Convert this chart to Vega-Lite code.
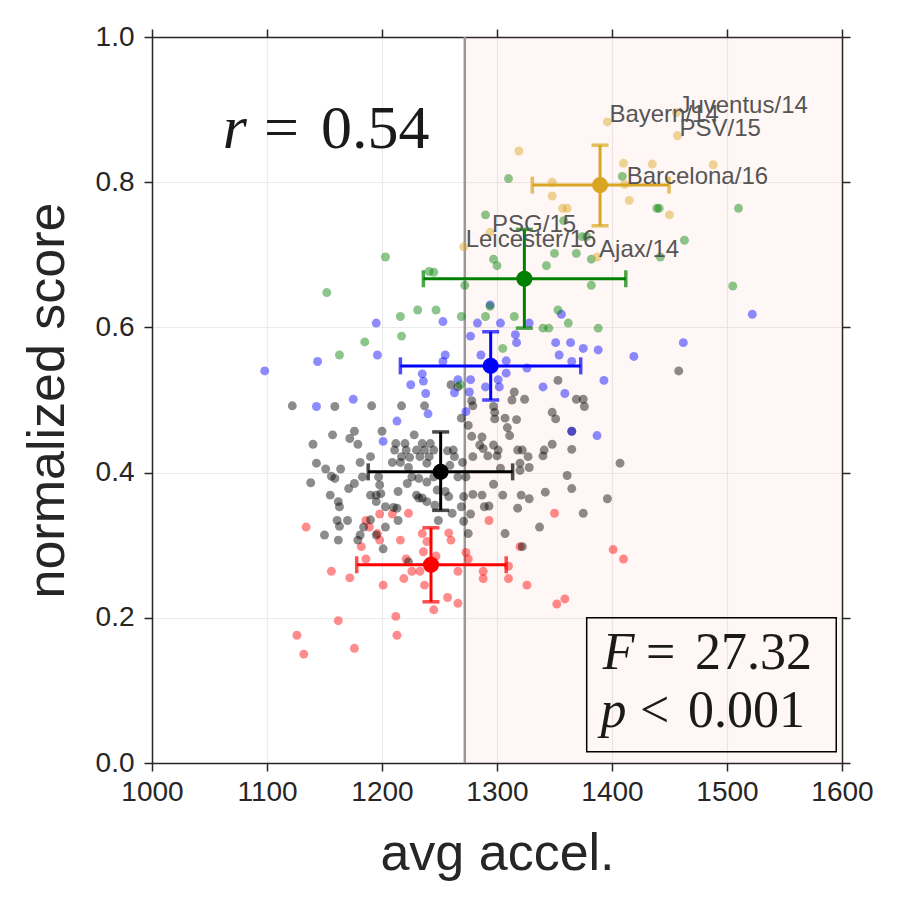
{
  "$schema": "https://vega.github.io/schema/vega-lite/v6.json",
  "width": 690,
  "height": 726,
  "autosize": {"type": "none"},
  "padding": {"left": 152, "top": 37, "right": 58, "bottom": 137},
  "background": "white",
  "datasets": {
    "pts": [
      {"x":1134,"y":0.325,"tier":1},{"x":1156,"y":0.264,"tier":1},{"x":1172,"y":0.255,"tier":1},{"x":1182,"y":0.298,"tier":1},{"x":1186,"y":0.281,"tier":1},
      {"x":1186,"y":0.334,"tier":1},{"x":1189,"y":0.325,"tier":1},{"x":1198,"y":0.343,"tier":1},{"x":1209,"y":0.343,"tier":1},{"x":1223,"y":0.344,"tier":1},
      {"x":1196,"y":0.316,"tier":1},{"x":1198,"y":0.307,"tier":1},{"x":1201,"y":0.245,"tier":1},{"x":1216,"y":0.307,"tier":1},{"x":1221,"y":0.281,"tier":1},
      {"x":1219,"y":0.254,"tier":1},{"x":1226,"y":0.264,"tier":1},{"x":1233,"y":0.264,"tier":1},{"x":1235,"y":0.316,"tier":1},{"x":1239,"y":0.305,"tier":1},
      {"x":1236,"y":0.291,"tier":1},{"x":1247,"y":0.285,"tier":1},{"x":1237,"y":0.245,"tier":1},{"x":1245,"y":0.211,"tier":1},{"x":1258,"y":0.317,"tier":1},
      {"x":1260,"y":0.307,"tier":1},{"x":1257,"y":0.228,"tier":1},{"x":1266,"y":0.220,"tier":1},{"x":1266,"y":0.264,"tier":1},{"x":1273,"y":0.290,"tier":1},
      {"x":1275,"y":0.281,"tier":1},{"x":1288,"y":0.264,"tier":1},{"x":1288,"y":0.254,"tier":1},{"x":1293,"y":0.334,"tier":1},{"x":1310,"y":0.271,"tier":1},
      {"x":1310,"y":0.254,"tier":1},{"x":1320,"y":0.298,"tier":1},{"x":1326,"y":0.245,"tier":1},{"x":1350,"y":0.344,"tier":1},{"x":1352,"y":0.219,"tier":1},
      {"x":1359,"y":0.226,"tier":1},{"x":1401,"y":0.294,"tier":1},{"x":1410,"y":0.281,"tier":1},{"x":1162,"y":0.196,"tier":1},{"x":1212,"y":0.202,"tier":1},
      {"x":1213,"y":0.176,"tier":1},{"x":1126,"y":0.176,"tier":1},{"x":1132,"y":0.150,"tier":1},{"x":1176,"y":0.158,"tier":1},

      {"x":1122,"y":0.492,"tier":2},{"x":1159,"y":0.491,"tier":2},{"x":1191,"y":0.492,"tier":2},{"x":1217,"y":0.492,"tier":2},{"x":1237,"y":0.492,"tier":2},
      {"x":1260,"y":0.521,"tier":2},{"x":1266,"y":0.518,"tier":2},{"x":1269,"y":0.475,"tier":2},{"x":1176,"y":0.457,"tier":2},{"x":1172,"y":0.447,"tier":2},
      {"x":1179,"y":0.439,"tier":2},{"x":1157,"y":0.452,"tier":2},{"x":1140,"y":0.439,"tier":2},{"x":1200,"y":0.457,"tier":2},{"x":1228,"y":0.452,"tier":2},
      {"x":1212,"y":0.440,"tier":2},{"x":1220,"y":0.440,"tier":2},{"x":1235,"y":0.440,"tier":2},{"x":1242,"y":0.440,"tier":2},{"x":1211,"y":0.431,"tier":2},
      {"x":1221,"y":0.431,"tier":2},{"x":1230,"y":0.431,"tier":2},{"x":1237,"y":0.431,"tier":2},{"x":1245,"y":0.431,"tier":2},{"x":1257,"y":0.430,"tier":2},
      {"x":1262,"y":0.431,"tier":2},{"x":1190,"y":0.422,"tier":2},{"x":1217,"y":0.422,"tier":2},{"x":1224,"y":0.421,"tier":2},{"x":1233,"y":0.422,"tier":2},
      {"x":1241,"y":0.422,"tier":2},{"x":1263,"y":0.422,"tier":2},{"x":1270,"y":0.414,"tier":2},{"x":1143,"y":0.413,"tier":2},{"x":1181,"y":0.414,"tier":2},
      {"x":1209,"y":0.414,"tier":2},{"x":1216,"y":0.414,"tier":2},{"x":1223,"y":0.407,"tier":2},{"x":1239,"y":0.413,"tier":2},{"x":1259,"y":0.410,"tier":2},
      {"x":1151,"y":0.405,"tier":2},{"x":1164,"y":0.405,"tier":2},{"x":1156,"y":0.395,"tier":2},{"x":1159,"y":0.392,"tier":2},{"x":1183,"y":0.394,"tier":2},
      {"x":1197,"y":0.394,"tier":2},{"x":1226,"y":0.394,"tier":2},{"x":1232,"y":0.392,"tier":2},{"x":1239,"y":0.387,"tier":2},{"x":1245,"y":0.394,"tier":2},
      {"x":1266,"y":0.394,"tier":2},{"x":1273,"y":0.394,"tier":2},{"x":1138,"y":0.386,"tier":2},{"x":1171,"y":0.378,"tier":2},{"x":1176,"y":0.385,"tier":2},
      {"x":1198,"y":0.383,"tier":2},{"x":1199,"y":0.371,"tier":2},{"x":1222,"y":0.385,"tier":2},{"x":1214,"y":0.374,"tier":2},{"x":1155,"y":0.369,"tier":2},
      {"x":1190,"y":0.369,"tier":2},{"x":1195,"y":0.369,"tier":2},{"x":1230,"y":0.369,"tier":2},{"x":1232,"y":0.365,"tier":2},{"x":1248,"y":0.376,"tier":2},
      {"x":1255,"y":0.374,"tier":2},{"x":1258,"y":0.367,"tier":2},{"x":1271,"y":0.367,"tier":2},{"x":1162,"y":0.360,"tier":2},{"x":1163,"y":0.353,"tier":2},
      {"x":1203,"y":0.353,"tier":2},{"x":1210,"y":0.352,"tier":2},{"x":1213,"y":0.351,"tier":2},{"x":1235,"y":0.365,"tier":2},{"x":1239,"y":0.360,"tier":2},
      {"x":1261,"y":0.344,"tier":2},{"x":1269,"y":0.353,"tier":2},{"x":1161,"y":0.334,"tier":2},{"x":1163,"y":0.326,"tier":2},{"x":1170,"y":0.334,"tier":2},
      {"x":1190,"y":0.335,"tier":2},{"x":1203,"y":0.325,"tier":2},{"x":1214,"y":0.334,"tier":2},{"x":1249,"y":0.334,"tier":2},{"x":1271,"y":0.333,"tier":2},
      {"x":1150,"y":0.314,"tier":2},{"x":1162,"y":0.307,"tier":2},{"x":1181,"y":0.314,"tier":2},{"x":1184,"y":0.325,"tier":2},{"x":1179,"y":0.307,"tier":2},
      {"x":1201,"y":0.295,"tier":2},{"x":1195,"y":0.360,"tier":2},{"x":1195,"y":0.314,"tier":2},{"x":1223,"y":0.277,"tier":2},{"x":1246,"y":0.355,"tier":2},
      {"x":1277,"y":0.343,"tier":2},{"x":1275,"y":0.316,"tier":2},{"x":1353,"y":0.527,"tier":2},{"x":1315,"y":0.511,"tier":2},{"x":1313,"y":0.500,"tier":2},
      {"x":1324,"y":0.501,"tier":2},{"x":1369,"y":0.501,"tier":2},{"x":1375,"y":0.501,"tier":2},{"x":1376,"y":0.491,"tier":2},{"x":1278,"y":0.499,"tier":2},
      {"x":1279,"y":0.492,"tier":2},{"x":1297,"y":0.491,"tier":2},{"x":1298,"y":0.483,"tier":2},{"x":1298,"y":0.474,"tier":2},{"x":1307,"y":0.475,"tier":2},
      {"x":1317,"y":0.473,"tier":2},{"x":1348,"y":0.483,"tier":2},{"x":1351,"y":0.474,"tier":2},{"x":1275,"y":0.465,"tier":2},{"x":1309,"y":0.462,"tier":2},
      {"x":1311,"y":0.451,"tier":2},{"x":1278,"y":0.450,"tier":2},{"x":1287,"y":0.449,"tier":2},{"x":1285,"y":0.438,"tier":2},{"x":1288,"y":0.433,"tier":2},
      {"x":1297,"y":0.438,"tier":2},{"x":1301,"y":0.431,"tier":2},{"x":1292,"y":0.423,"tier":2},{"x":1300,"y":0.423,"tier":2},{"x":1348,"y":0.439,"tier":2},
      {"x":1365,"y":0.432,"tier":2},{"x":1341,"y":0.431,"tier":2},{"x":1340,"y":0.423,"tier":2},{"x":1318,"y":0.431,"tier":2},{"x":1322,"y":0.431,"tier":2},
      {"x":1320,"y":0.413,"tier":2},{"x":1320,"y":0.403,"tier":2},{"x":1279,"y":0.422,"tier":2},{"x":1407,"y":0.413,"tier":2},{"x":1303,"y":0.406,"tier":2},
      {"x":1361,"y":0.396,"tier":2},{"x":1297,"y":0.384,"tier":2},{"x":1342,"y":0.373,"tier":2},{"x":1365,"y":0.378,"tier":2},{"x":1279,"y":0.370,"tier":2},
      {"x":1287,"y":0.369,"tier":2},{"x":1305,"y":0.369,"tier":2},{"x":1321,"y":0.369,"tier":2},{"x":1328,"y":0.364,"tier":2},{"x":1396,"y":0.364,"tier":2},
      {"x":1293,"y":0.354,"tier":2},{"x":1318,"y":0.351,"tier":2},{"x":1375,"y":0.344,"tier":2},{"x":1337,"y":0.325,"tier":2},{"x":1307,"y":0.316,"tier":2},
      {"x":1322,"y":0.298,"tier":2},{"x":1365,"y":0.457,"tier":2},{"x":1458,"y":0.540,"tier":2},{"x":1327,"y":0.422,"tier":2},{"x":1328,"y":0.407,"tier":2},
      {"x":1289,"y":0.353,"tier":2},

      {"x":1098,"y":0.540,"tier":3},{"x":1144,"y":0.553,"tier":3},{"x":1195,"y":0.606,"tier":3},{"x":1196,"y":0.562,"tier":3},{"x":1253,"y":0.608,"tier":3},
      {"x":1255,"y":0.562,"tier":3},{"x":1253,"y":0.553,"tier":3},{"x":1235,"y":0.536,"tier":3},{"x":1236,"y":0.526,"tier":3},{"x":1225,"y":0.521,"tier":3},
      {"x":1238,"y":0.509,"tier":3},{"x":1263,"y":0.510,"tier":3},{"x":1266,"y":0.528,"tier":3},{"x":1277,"y":0.588,"tier":3},{"x":1143,"y":0.491,"tier":3},
      {"x":1175,"y":0.501,"tier":3},{"x":1240,"y":0.481,"tier":3},{"x":1213,"y":0.471,"tier":3},{"x":1273,"y":0.484,"tier":3},{"x":1201,"y":0.443,"tier":3},
      {"x":1286,"y":0.562,"tier":3},{"x":1316,"y":0.590,"tier":3},{"x":1317,"y":0.579,"tier":3},{"x":1308,"y":0.554,"tier":3},{"x":1326,"y":0.544,"tier":3},
      {"x":1351,"y":0.579,"tier":3},{"x":1364,"y":0.579,"tier":3},{"x":1354,"y":0.562,"tier":3},{"x":1375,"y":0.571,"tier":3},{"x":1388,"y":0.569,"tier":3},
      {"x":1419,"y":0.560,"tier":3},{"x":1365,"y":0.553,"tier":3},{"x":1308,"y":0.537,"tier":3},{"x":1301,"y":0.528,"tier":3},{"x":1302,"y":0.518,"tier":3},
      {"x":1290,"y":0.518,"tier":3},{"x":1277,"y":0.528,"tier":3},{"x":1276,"y":0.511,"tier":3},{"x":1393,"y":0.527,"tier":3},{"x":1340,"y":0.518,"tier":3},
      {"x":1359,"y":0.509,"tier":3},{"x":1365,"y":0.457,"tier":3},{"x":1387,"y":0.451,"tier":3},{"x":1522,"y":0.618,"tier":3},{"x":1462,"y":0.579,"tier":3},
      {"x":1294,"y":0.631,"tier":3},{"x":1283,"y":0.606,"tier":3},{"x":1303,"y":0.606,"tier":3},{"x":1356,"y":0.618,"tier":3},{"x":1328,"y":0.606,"tier":3},

      {"x":1310,"y":0.805,"tier":4},{"x":1409,"y":0.808,"tier":4},{"x":1439,"y":0.764,"tier":4},{"x":1441,"y":0.764,"tier":4},{"x":1510,"y":0.764,"tier":4},
      {"x":1290,"y":0.755,"tier":4},{"x":1358,"y":0.747,"tier":4},{"x":1374,"y":0.725,"tier":4},{"x":1378,"y":0.725,"tier":4},{"x":1463,"y":0.720,"tier":4},
      {"x":1350,"y":0.702,"tier":4},{"x":1369,"y":0.702,"tier":4},{"x":1297,"y":0.694,"tier":4},{"x":1300,"y":0.685,"tier":4},{"x":1343,"y":0.685,"tier":4},
      {"x":1382,"y":0.694,"tier":4},{"x":1442,"y":0.697,"tier":4},{"x":1272,"y":0.658,"tier":4},{"x":1382,"y":0.658,"tier":4},{"x":1505,"y":0.657,"tier":4},
      {"x":1294,"y":0.629,"tier":4},{"x":1353,"y":0.624,"tier":4},{"x":1203,"y":0.697,"tier":4},{"x":1241,"y":0.677,"tier":4},{"x":1245,"y":0.676,"tier":4},
      {"x":1231,"y":0.624,"tier":4},{"x":1247,"y":0.624,"tier":4},{"x":1216,"y":0.615,"tier":4},{"x":1269,"y":0.615,"tier":4},{"x":1290,"y":0.615,"tier":4},
      {"x":1315,"y":0.615,"tier":4},{"x":1362,"y":0.606,"tier":4},{"x":1340,"y":0.599,"tier":4},{"x":1345,"y":0.599,"tier":4},{"x":1388,"y":0.599,"tier":4},
      {"x":1217,"y":0.588,"tier":4},{"x":1185,"y":0.580,"tier":4},{"x":1163,"y":0.562,"tier":4},{"x":1305,"y":0.571,"tier":4},{"x":1268,"y":0.521,"tier":4},
      {"x":1152,"y":0.648,"tier":4},

      {"x":1396,"y":0.883,"tier":5,"team":"Bayern/14"},{"x":1456,"y":0.896,"tier":5,"team":"Juventus/14"},{"x":1457,"y":0.864,"tier":5,"team":"PSV/15"},
      {"x":1319,"y":0.843,"tier":5},{"x":1410,"y":0.826,"tier":5},{"x":1435,"y":0.825,"tier":5},{"x":1488,"y":0.824,"tier":5},{"x":1348,"y":0.800,"tier":5},
      {"x":1411,"y":0.797,"tier":5,"team":"Barcelona/16"},{"x":1348,"y":0.781,"tier":5},{"x":1415,"y":0.775,"tier":5},{"x":1357,"y":0.764,"tier":5},
      {"x":1361,"y":0.764,"tier":5},{"x":1450,"y":0.755,"tier":5},{"x":1294,"y":0.731,"tier":5,"team":"PSG/15"},{"x":1271,"y":0.711,"tier":5,"team":"Leicester/16"},
      {"x":1387,"y":0.697,"tier":5,"team":"Ajax/14"}
    ],
    "stats": [
      {"tier":1,"mx":1242.6,"my":0.273,"xlo":1178.0,"xhi":1308.0,"ylo":0.222,"yhi":0.324},
      {"tier":2,"mx":1251.0,"my":0.401,"xlo":1188.0,"xhi":1313.6,"ylo":0.348,"yhi":0.456},
      {"tier":3,"mx":1294.5,"my":0.547,"xlo":1216.0,"xhi":1372.8,"ylo":0.500,"yhi":0.594},
      {"tier":4,"mx":1323.8,"my":0.667,"xlo":1236.0,"xhi":1412.0,"ylo":0.599,"yhi":0.735},
      {"tier":5,"mx":1389.6,"my":0.796,"xlo":1330.7,"xhi":1449.6,"ylo":0.740,"yhi":0.851}
    ]
  },
  "resolve": {"axis": {"x": "independent", "y": "independent"}},
  "layer": [
    {
      "data": {"values": [{"x": 1272, "x2": 1600}]},
      "mark": {"type": "rect", "fill": "#ff7f50", "opacity": 0.06},
      "encoding": {
        "x": {"field": "x", "type": "quantitative", "scale": {"domain": [1000, 1600], "nice": false, "zero": false}, "axis": null},
        "x2": {"field": "x2"}
      }
    },
    {
      "data": {"values": [{"x": 1272}]},
      "mark": {"type": "rule", "color": "#999999", "strokeWidth": 2.5},
      "encoding": {
        "x": {"field": "x", "type": "quantitative", "axis": null}
      }
    },
    {
      "data": {"name": "pts"},
      "mark": {"type": "circle", "size": 80, "opacity": 0.45},
      "encoding": {
        "x": {"field": "x", "type": "quantitative", "scale": {"domain": [1000, 1600], "nice": false, "zero": false},
          "axis": {"orient": "bottom", "title": "avg accel.", "values": [1000, 1100, 1200, 1300, 1400, 1500, 1600], "format": "d", "grid": true, "titlePadding": 22}},
        "y": {"field": "y", "type": "quantitative", "scale": {"domain": [0, 1], "nice": false, "zero": false},
          "axis": {"orient": "left", "title": "normalized score", "values": [0, 0.2, 0.4, 0.6, 0.8, 1.0], "format": ".1f", "grid": true, "labelPadding": 10, "titlePadding": 21}},
        "color": {"field": "tier", "type": "nominal", "legend": null,
          "scale": {"domain": [1, 2, 3, 4, 5], "range": ["#ff0000", "#000000", "#0000ff", "#008000", "#daa520"]}}
      }
    },
    {
      "data": {"name": "stats"},
      "mark": {"type": "rule", "strokeWidth": 3},
      "encoding": {
        "x": {"field": "xlo", "type": "quantitative",
          "axis": {"orient": "top", "title": null, "labels": false, "grid": false, "values": [1000, 1100, 1200, 1300, 1400, 1500, 1600]}},
        "x2": {"field": "xhi"},
        "y": {"field": "my", "type": "quantitative",
          "axis": {"orient": "right", "title": null, "labels": false, "grid": false, "values": [0, 0.2, 0.4, 0.6, 0.8, 1.0]}},
        "color": {"field": "tier", "type": "nominal", "legend": null}
      }
    },
    {
      "data": {"name": "stats"},
      "mark": {"type": "rule", "strokeWidth": 3},
      "encoding": {
        "x": {"field": "mx", "type": "quantitative", "axis": null},
        "y": {"field": "ylo", "type": "quantitative", "axis": null},
        "y2": {"field": "yhi"},
        "color": {"field": "tier", "type": "nominal", "legend": null}
      }
    },
    {
      "data": {"name": "stats"},
      "mark": {"type": "tick", "orient": "vertical", "size": 17, "thickness": 3.5},
      "encoding": {
        "x": {"field": "xlo", "type": "quantitative", "axis": null},
        "y": {"field": "my", "type": "quantitative", "axis": null},
        "color": {"field": "tier", "type": "nominal", "legend": null}
      }
    },
    {
      "data": {"name": "stats"},
      "mark": {"type": "tick", "orient": "vertical", "size": 17, "thickness": 3.5},
      "encoding": {
        "x": {"field": "xhi", "type": "quantitative", "axis": null},
        "y": {"field": "my", "type": "quantitative", "axis": null},
        "color": {"field": "tier", "type": "nominal", "legend": null}
      }
    },
    {
      "data": {"name": "stats"},
      "mark": {"type": "tick", "orient": "horizontal", "size": 17, "thickness": 3.5},
      "encoding": {
        "x": {"field": "mx", "type": "quantitative", "axis": null},
        "y": {"field": "ylo", "type": "quantitative", "axis": null},
        "color": {"field": "tier", "type": "nominal", "legend": null}
      }
    },
    {
      "data": {"name": "stats"},
      "mark": {"type": "tick", "orient": "horizontal", "size": 17, "thickness": 3.5},
      "encoding": {
        "x": {"field": "mx", "type": "quantitative", "axis": null},
        "y": {"field": "yhi", "type": "quantitative", "axis": null},
        "color": {"field": "tier", "type": "nominal", "legend": null}
      }
    },
    {
      "data": {"name": "stats"},
      "mark": {"type": "circle", "size": 260, "opacity": 1},
      "encoding": {
        "x": {"field": "mx", "type": "quantitative", "axis": null},
        "y": {"field": "my", "type": "quantitative", "axis": null},
        "color": {"field": "tier", "type": "nominal", "legend": null}
      }
    },
    {
      "data": {"name": "pts"},
      "transform": [{"filter": "isValid(datum.team)"}],
      "mark": {"type": "text", "align": "left", "baseline": "alphabetic", "dx": 2, "font": "Liberation Sans", "fontSize": 24, "fill": "#555555"},
      "encoding": {
        "x": {"field": "x", "type": "quantitative", "axis": null},
        "y": {"field": "y", "type": "quantitative", "axis": null},
        "text": {"field": "team"}
      }
    },
    {
      "data": {"values": [{"x": 1378, "x2": 1595, "y": 0.0156, "y2": 0.2}]},
      "mark": {"type": "rect", "fill": null, "fillOpacity": 0, "stroke": "#000000", "strokeWidth": 1.5},
      "encoding": {
        "x": {"field": "x", "type": "quantitative", "axis": null},
        "x2": {"field": "x2"},
        "y": {"field": "y", "type": "quantitative", "axis": null},
        "y2": {"field": "y2"}
      }
    },
    {
      "data": {"values": [{"x": 1061.5, "y": 0.847, "t": "r"}]},
      "mark": {"type": "text", "align": "left", "baseline": "alphabetic", "font": "Liberation Serif", "fontStyle": "italic", "fontSize": 62, "fill": "#1a1a1a"},
      "encoding": {
        "x": {"field": "x", "type": "quantitative", "axis": null},
        "y": {"field": "y", "type": "quantitative", "axis": null},
        "text": {"field": "t"}
      }
    },
    {
      "data": {"values": [{"x": 1097.4, "y": 0.847, "t": "="}, {"x": 1147, "y": 0.847, "t": "0.54"}]},
      "mark": {"type": "text", "align": "left", "baseline": "alphabetic", "font": "Liberation Serif", "fontSize": 62, "fill": "#1a1a1a"},
      "encoding": {
        "x": {"field": "x", "type": "quantitative", "axis": null},
        "y": {"field": "y", "type": "quantitative", "axis": null},
        "text": {"field": "t"}
      }
    },
    {
      "data": {"values": [{"x": 1392, "y": 0.1295, "t": "F"}, {"x": 1390, "y": 0.050, "t": "p"}]},
      "mark": {"type": "text", "align": "left", "baseline": "alphabetic", "font": "Liberation Serif", "fontStyle": "italic", "fontSize": 52, "fill": "#1a1a1a"},
      "encoding": {
        "x": {"field": "x", "type": "quantitative", "axis": null},
        "y": {"field": "y", "type": "quantitative", "axis": null},
        "text": {"field": "t"}
      }
    },
    {
      "data": {"values": [
        {"x": 1429.6, "y": 0.1295, "t": "="}, {"x": 1472.2, "y": 0.1295, "t": "27.32"},
        {"x": 1424.3, "y": 0.050, "t": "<"}, {"x": 1466.1, "y": 0.050, "t": "0.001"}
      ]},
      "mark": {"type": "text", "align": "left", "baseline": "alphabetic", "font": "Liberation Serif", "fontSize": 52, "fill": "#1a1a1a"},
      "encoding": {
        "x": {"field": "x", "type": "quantitative", "axis": null},
        "y": {"field": "y", "type": "quantitative", "axis": null},
        "text": {"field": "t"}
      }
    }
  ],
  "config": {
    "view": {"stroke": null},
    "font": "Liberation Sans",
    "axis": {
      "labelFont": "Liberation Sans",
      "labelFontSize": 28,
      "labelColor": "#262626",
      "labelPadding": 7,
      "labelFlush": false,
      "labelOverlap": false,
      "tickSize": 8,
      "tickWidth": 1.5,
      "tickColor": "#262626",
      "domainColor": "#262626",
      "domainWidth": 1.5,
      "gridColor": "#ebebeb",
      "gridWidth": 1.2,
      "titleFont": "Liberation Sans",
      "titleFontSize": 52,
      "titleFontWeight": "normal",
      "titleColor": "#262626"
    }
  }
}
